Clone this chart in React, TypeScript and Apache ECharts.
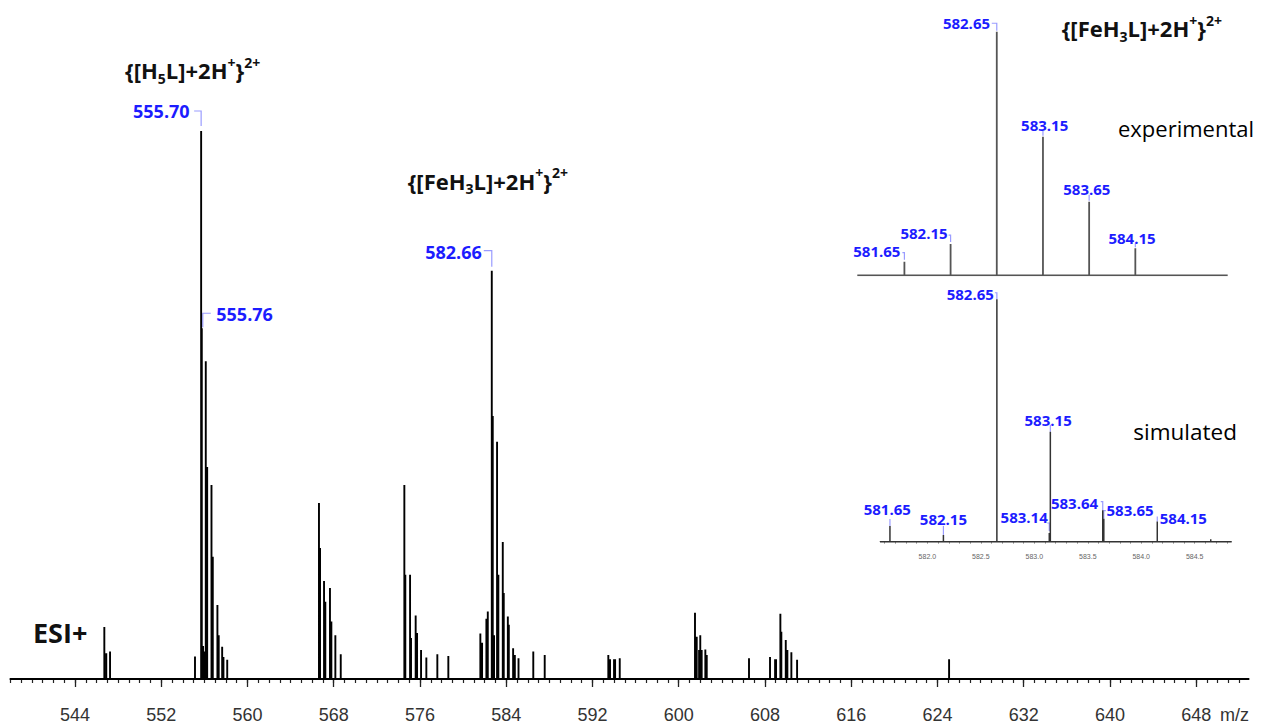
import React, { useEffect, useRef } from 'react';
import * as echarts from 'echarts';

// ---------- DATA ----------
// main ESI+ spectrum: peak m/z and relative intensity (% of 555.70)
const MAIN_MZ = [
  546.72, 546.9, 547.25, 555.13, 555.7, 555.76, 555.88, 556.0, 556.13, 556.26, 556.66, 556.78, 557.21, 557.33, 557.65, 557.77, 558.12,
  566.63, 566.73, 567.1, 567.22, 567.65, 567.78, 568.15, 568.65,
  574.55, 574.64, 575.08, 575.17, 575.6, 575.73, 576.1, 576.59, 577.61, 578.63,
  581.6, 581.76, 582.16, 582.29, 582.66, 582.75, 582.87, 583.15, 583.27, 583.68, 583.77, 584.15, 584.24, 584.64, 584.8, 585.14, 586.51, 587.57,
  593.47, 593.63, 594.0, 594.1, 594.53,
  601.51, 601.67, 601.89, 602.0, 602.13, 602.47, 602.6,
  606.52, 608.47, 608.94, 609.03, 609.43, 609.52, 609.93, 610.08, 610.45, 610.98,
  625.08,
];
const MAIN_INT = [
  9.5, 4.7, 5.0, 4.1, 100, 64, 6, 5, 58, 38.7, 35.4, 22.3, 13.5, 8, 5.9, 4, 3.5,
  32.1, 23.9, 17.9, 14.1, 16.6, 10.5, 8.0, 4.5,
  35.4, 19, 19, 7.5, 11.6, 8.4, 5.3, 3.9, 4.5, 4.2,
  8.3, 6.6, 11, 12.3, 74.5, 48, 8, 43.3, 19, 25, 15.7, 11.4, 9.9, 5.6, 4.4, 3.8, 5.0, 4.4,
  4.4, 3.6, 3.6, 3.6, 3.8,
  12.1, 7.7, 5.3, 8.0, 5.3, 5.4, 4.4,
  3.8, 4.0, 3.6, 3.6, 11.9, 8.6, 7.1, 5.3, 4.9, 3.5,
  3.6,
];
const MAIN_LABEL_MZ = [555.7, 555.76, 582.66];

// inset: experimental isotope pattern
const EXP_MZ = [581.65, 582.15, 582.65, 583.15, 583.65, 584.15];
const EXP_INT = [5.6, 12.8, 100, 56.9, 30.2, 11.1];

// inset: simulated isotope pattern
const SIM_MZ = [581.65, 582.15, 582.65, 583.14, 583.15, 583.64, 583.65, 584.15, 584.65];
const SIM_INT = [6.5, 2.8, 100, 3.6, 45.4, 13.0, 9.5, 8.3, 1.0];
const SIM_LABEL_MZ = [581.65, 582.15, 582.65, 583.14, 583.15, 583.64, 583.65, 584.15];

// axes
const MAIN_TICK_LABELS = [544, 552, 560, 568, 576, 584, 592, 600, 608, 616, 624, 632, 640, 648];
const SIM_TICK_LABELS = [582.0, 582.5, 583.0, 583.5, 584.0, 584.5];
const MAIN_RANGE = [537.97, 652.9];
const EXP_RANGE = [581.14, 585.15];
const SIM_RANGE = [581.557, 584.846];
const MAIN_AXIS_NAME = 'm/z';

// ---------- STYLE ----------
const BLUE = '#1c1cff';
const BRACKET = '#9a9cff';
const FONT = 'Open Sans';

type Layout = { align: 'left' | 'right' | 'center'; tx: number; ty: number; br: number[][] };

const MAIN_LAYOUT: Layout[] = [
  { align: 'right', tx: -11.5, ty: -20, br: [[-7, -20], [0, -20], [0, -5]] },
  { align: 'left', tx: 14.5, ty: -14, br: [[1, -1], [1, -15], [9, -15]] },
  { align: 'right', tx: -10, ty: -19, br: [[-8, -20], [0, -20], [0, -4]] },
];
const EXP_LAYOUT: Layout[] = [
  { align: 'right', tx: -4, ty: -11, br: [[-2, -9], [0, -9], [0, -2]] },
  { align: 'right', tx: -3, ty: -11.3, br: [[-2, -9], [0, -9], [0, -2]] },
  { align: 'right', tx: -6.7, ty: -8.4, br: [[-5, -8.4], [0, -8.4], [0, -1]] },
  { align: 'center', tx: 1.7, ty: -11.7, br: [[0, -6], [0, -1]] },
  { align: 'center', tx: -2.3, ty: -12.7, br: [[0, -7], [0, -1]] },
  { align: 'center', tx: -3.3, ty: -10, br: [[0, -5], [0, -1]] },
];
const SIM_LAYOUT: Layout[] = [
  { align: 'center', tx: -2.7, ty: -16.7, br: [[0, -7], [0, 0]] },
  { align: 'center', tx: 0, ty: -15.7, br: [[0, -9], [0, 0]] },
  { align: 'right', tx: -3, ty: -5.3, br: [[-2, -6.6], [0, -6.6], [0, 0]] },
  { align: 'right', tx: -1.5, ty: -16.3, br: [[-2, -10], [0, -10], [0, -2]] },
  { align: 'center', tx: -2.2, ty: -11.7, br: [[0, -7], [0, 0]] },
  { align: 'right', tx: -4.6, ty: -7.5, br: [[-2, -8.5], [0, -8.5], [0, 0]] },
  { align: 'left', tx: 2.7, ty: -8.7, br: [[0, 0], [0, -8], [2, -8]] },
  { align: 'left', tx: 2.5, ty: -3.3, br: [[0, -5], [0, 0]] },
];

function stickProfile(mz: number[], inten: number[], range: number[]) {
  const idx = mz.map((_, i) => i).sort((a, b) => mz[a] - mz[b]);
  const pts: number[][] = [[range[0], 0]];
  for (const i of idx) {
    pts.push([mz[i], 0], [mz[i], inten[i]], [mz[i], 0]);
  }
  pts.push([range[1], 0]);
  return pts;
}

function labelData(labelMz: number[], mz: number[], inten: number[]) {
  return labelMz.map((m) => [m, inten[mz.indexOf(m)]]);
}

function labelRenderer(layouts: Layout[], texts: string[], fontSize: number) {
  return (params: any, api: any) => {
    const L = layouts[params.dataIndex];
    const p = api.coord([api.value(0), api.value(1)]);
    const pts = L.br.map(([dx, dy]) => [p[0] + dx, p[1] + dy]);
    return {
      type: 'group',
      children: [
        { type: 'polyline', shape: { points: pts }, style: { stroke: BRACKET, fill: 'none', lineWidth: 1.2 } },
        {
          type: 'text',
          style: {
            text: texts[params.dataIndex],
            x: p[0] + L.tx,
            y: p[1] + L.ty,
            align: L.align,
            verticalAlign: 'middle',
            fill: BLUE,
            fontSize,
            fontWeight: 'bold',
            fontFamily: FONT,
          },
        },
      ],
    };
  };
}

function rangeSteps(a: number, b: number, step: number) {
  const out: number[] = [];
  const n = Math.round((b - a) / step);
  for (let i = 0; i <= n; i++) out.push(+(a + i * step).toFixed(3));
  return out;
}

function titleText(text: string, x: number, y: number) {
  const base = { fontSize: 22, fontFamily: FONT, fontWeight: 'bold', fill: '#111' };
  return {
    type: 'text',
    x,
    y,
    style: {
      text,
      ...base,
      lineHeight: 30,
      align: 'left',
      verticalAlign: 'middle',
      rich: {
        sub: { ...base, fontSize: 14, lineHeight: 14, verticalAlign: 'bottom' },
        sup: { ...base, fontSize: 14, lineHeight: 15, verticalAlign: 'top' },
      },
    },
  };
}

export default function App() {
  const ref = useRef<HTMLDivElement>(null);
  useEffect(() => {
    if (!ref.current) return;
    const chart = echarts.init(ref.current, undefined, { renderer: 'svg' });
    const mainMinor = rangeSteps(538, 652, 1);
    const simTicks = rangeSteps(581.6, 584.8, 0.1);

    const option: any = {
      animation: false,
      backgroundColor: '#ffffff',
      grid: [
        { left: 10, right: 17, top: 0, bottom: 27 },
        { left: 10, right: 17, top: 0, bottom: 27 },
        { left: 857.3, right: 38.3, top: 7.3, bottom: 448.7 },
        { left: 880, right: 34.3, top: 275.1, bottom: 175.5 },
      ],
      xAxis: [
        {
          gridIndex: 0,
          type: 'value',
          min: MAIN_RANGE[0],
          max: MAIN_RANGE[1],
          splitLine: { show: false },
          axisLine: { show: true, lineStyle: { color: '#222', width: 1.5 } },
          axisTick: { show: true, customValues: MAIN_TICK_LABELS, length: 8, lineStyle: { color: '#222', width: 1.3 } },
          axisLabel: {
            show: true,
            customValues: MAIN_TICK_LABELS,
            margin: 9,
            fontSize: 18,
            lineHeight: 18,
            fontFamily: 'Liberation Sans',
            color: '#333',
          },
        },
        {
          gridIndex: 1,
          type: 'value',
          min: MAIN_RANGE[0],
          max: MAIN_RANGE[1],
          splitLine: { show: false },
          axisLine: { show: false },
          axisTick: { show: true, customValues: mainMinor, length: 4, lineStyle: { color: '#222', width: 1.2 } },
          axisLabel: { show: false },
        },
        {
          gridIndex: 2,
          type: 'value',
          min: EXP_RANGE[0],
          max: EXP_RANGE[1],
          show: false,
          splitLine: { show: false },
        },
        {
          gridIndex: 3,
          type: 'value',
          min: SIM_RANGE[0],
          max: SIM_RANGE[1],
          splitLine: { show: false },
          axisLine: { show: true, lineStyle: { color: '#888', width: 1, type: 'dotted' } },
          axisTick: { show: true, customValues: simTicks, length: 2, lineStyle: { color: '#999', width: 1 } },
          axisLabel: {
            show: true,
            customValues: SIM_TICK_LABELS,
            margin: 4,
            fontSize: 7,
            fontFamily: 'Liberation Sans',
            color: '#666',
            formatter: (v: number) => v.toFixed(1),
          },
        },
      ],
      yAxis: [
        { gridIndex: 0, type: 'value', min: -3.285, max: 123.9, show: false, splitLine: { show: false } },
        { gridIndex: 1, type: 'value', min: -3.285, max: 123.9, show: false, splitLine: { show: false } },
        { gridIndex: 2, type: 'value', min: 0, max: 110, show: false, splitLine: { show: false } },
        { gridIndex: 3, type: 'value', min: -2.8, max: 110, show: false, splitLine: { show: false } },
      ],
      series: [
        {
          type: 'line',
          xAxisIndex: 0,
          yAxisIndex: 0,
          data: stickProfile(MAIN_MZ, MAIN_INT, MAIN_RANGE),
          showSymbol: false,
          symbol: 'none',
          lineStyle: { color: '#000', width: 1.9 },
          silent: true,
        },
        {
          type: 'line',
          xAxisIndex: 2,
          yAxisIndex: 2,
          data: stickProfile(EXP_MZ, EXP_INT, EXP_RANGE),
          showSymbol: false,
          symbol: 'none',
          lineStyle: { color: '#555', width: 1.8 },
          silent: true,
        },
        {
          type: 'line',
          xAxisIndex: 3,
          yAxisIndex: 3,
          data: stickProfile(SIM_MZ, SIM_INT, SIM_RANGE),
          showSymbol: false,
          symbol: 'none',
          lineStyle: { color: '#333', width: 1.5 },
          silent: true,
        },
        {
          type: 'custom',
          xAxisIndex: 0,
          yAxisIndex: 0,
          clip: false,
          data: labelData(MAIN_LABEL_MZ, MAIN_MZ, MAIN_INT),
          renderItem: labelRenderer(MAIN_LAYOUT, MAIN_LABEL_MZ.map((m) => m.toFixed(2)), 18),
          silent: true,
        },
        {
          type: 'custom',
          xAxisIndex: 2,
          yAxisIndex: 2,
          clip: false,
          data: labelData(EXP_MZ, EXP_MZ, EXP_INT),
          renderItem: labelRenderer(EXP_LAYOUT, EXP_MZ.map((m) => m.toFixed(2)), 15),
          silent: true,
        },
        {
          type: 'custom',
          xAxisIndex: 3,
          yAxisIndex: 3,
          clip: false,
          data: labelData(SIM_LABEL_MZ, SIM_MZ, SIM_INT),
          renderItem: labelRenderer(SIM_LAYOUT, SIM_LABEL_MZ.map((m) => m.toFixed(2)), 15),
          silent: true,
        },
      ],
      graphic: [
        titleText('{[H{sub|5}L]+2H{sup|+}}{sup|2+}', 125, 70),
        titleText('{[FeH{sub|3}L]+2H{sup|+}}{sup|2+}', 407.7, 180.5),
        titleText('{[FeH{sub|3}L]+2H{sup|+}}{sup|2+}', 1061.7, 28),
        {
          type: 'text',
          x: 1249,
          y: 714.5,
          style: { text: MAIN_AXIS_NAME, fontSize: 18, lineHeight: 18, fontFamily: 'Liberation Sans', fill: '#333', align: 'right', verticalAlign: 'middle' },
        },
        {
          type: 'text',
          x: 33,
          y: 632,
          style: { text: 'ESI+', fontSize: 27, fontWeight: 'bold', fontFamily: FONT, fill: '#111', align: 'left', verticalAlign: 'middle' },
        },
        {
          type: 'text',
          x: 1118,
          y: 128.3,
          style: { text: 'experimental', fontSize: 22, fontWeight: 500, fontFamily: FONT, fill: '#000', align: 'left', verticalAlign: 'middle' },
        },
        {
          type: 'text',
          x: 1133.3,
          y: 431.7,
          style: { text: 'simulated', fontSize: 22.5, fontWeight: 500, fontFamily: FONT, fill: '#000', align: 'left', verticalAlign: 'middle' },
        },
      ],
    };
    chart.setOption(option);
    return () => chart.dispose();
  }, []);
  return (
    <div
      ref={ref}
      style={{ position: 'absolute', left: 0, top: 0, width: 1266, height: 724, background: '#fff' }}
    />
  );
}
